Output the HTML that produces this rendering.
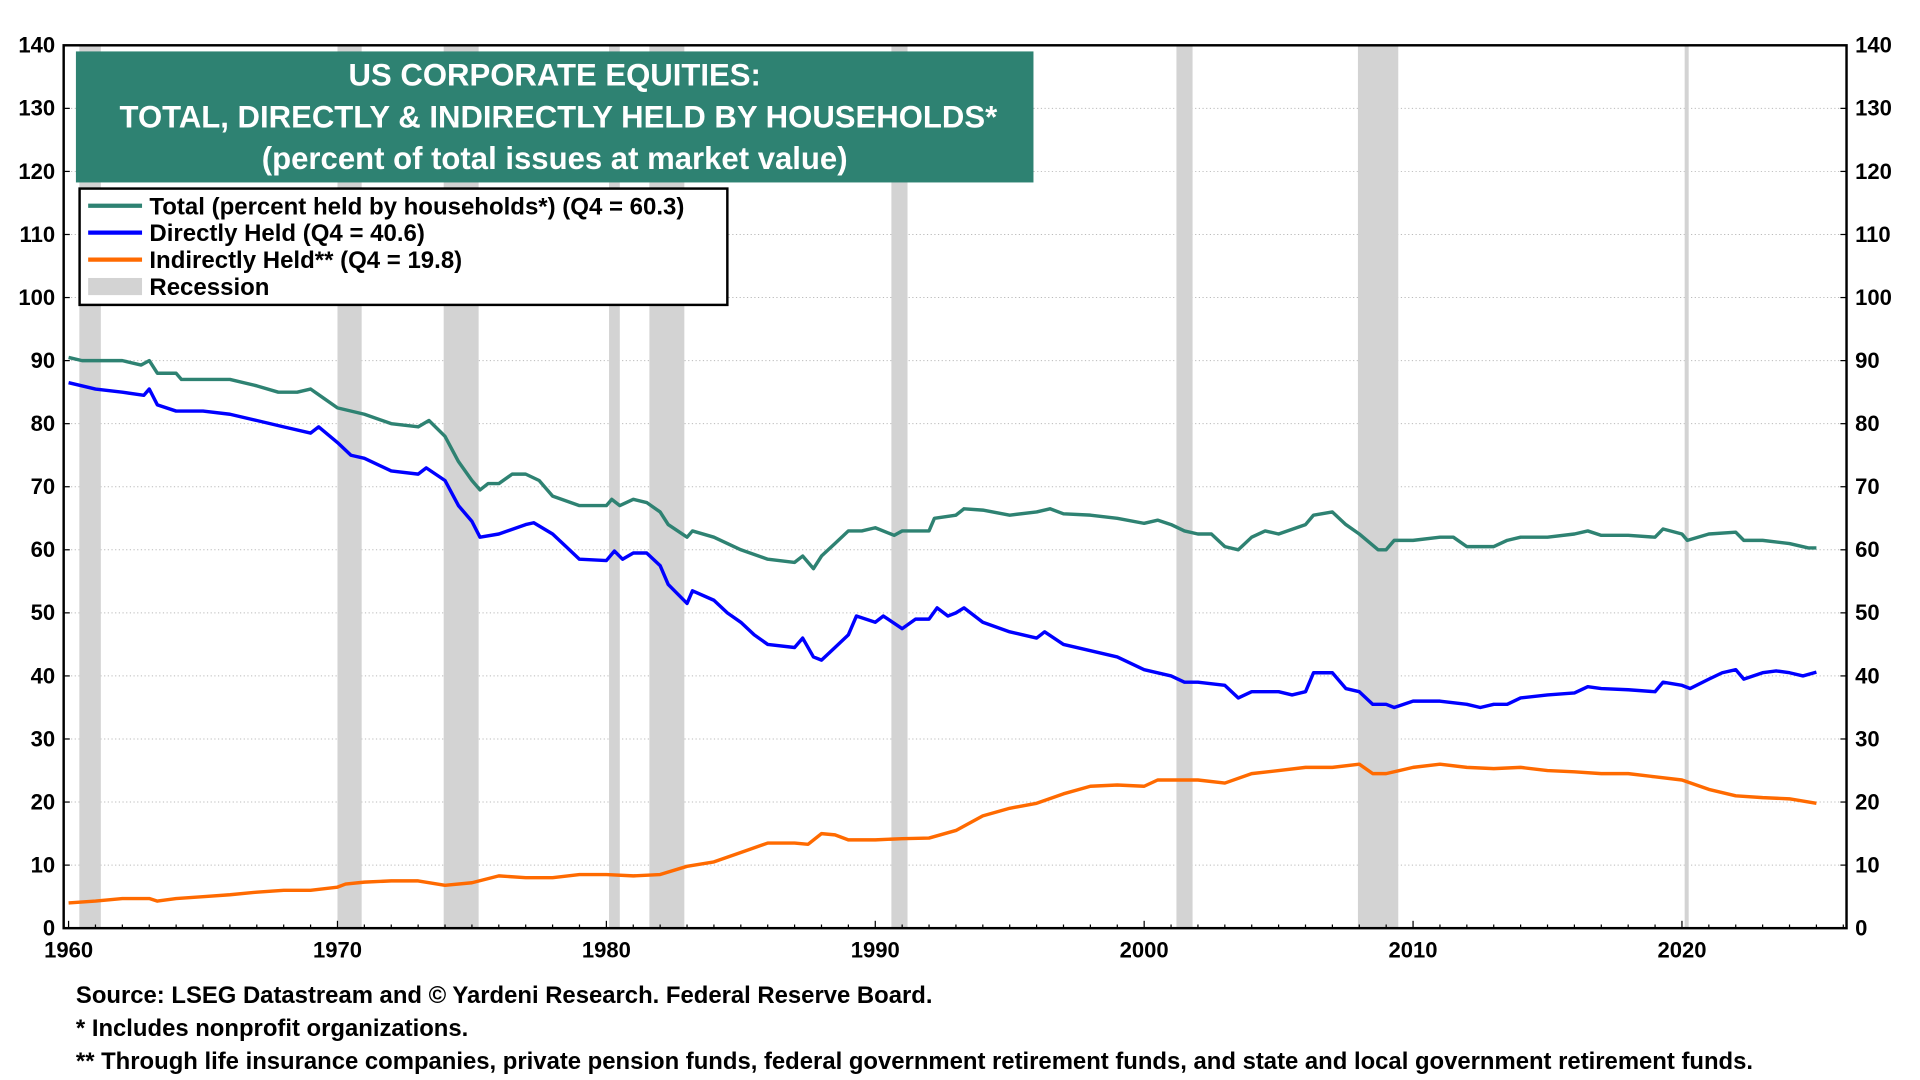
<!DOCTYPE html>
<html><head><meta charset="utf-8"><style>
html,body{margin:0;padding:0;background:#fff;}
svg{display:block;font-family:"Liberation Sans",Arial,sans-serif;font-weight:bold;}
</style></head><body>
<svg id="chart" width="1920" height="1080" viewBox="0 0 1568 882" xmlns="http://www.w3.org/2000/svg">
<g id="grid"></g>
<g id="rec"></g>
<g id="lines"></g>
<rect x="52" y="37" width="1456" height="721" fill="none" stroke="#000" stroke-width="2"/>
<g id="axes"></g>
<rect x="62" y="42" width="782" height="107" fill="#2e8272"/>
<text fill="#fff" font-size="25.4" text-anchor="middle"><tspan x="453" y="70">US CORPORATE EQUITIES:</tspan><tspan x="456" y="104">TOTAL, DIRECTLY &amp; INDIRECTLY HELD BY HOUSEHOLDS*</tspan><tspan x="453" y="138">(percent of total issues at market value)</tspan></text>
<g>
<rect x="65" y="154" width="529" height="95" fill="#fff" stroke="#000" stroke-width="2"/>
<line x1="72" y1="168" x2="116" y2="168" stroke="#2e8272" stroke-width="3.5"/>
<text x="122" y="175" font-size="19.6">Total (percent held by households*) (Q4 = 60.3)</text>
<line x1="72" y1="190" x2="116" y2="190" stroke="#0000ff" stroke-width="3.5"/>
<text x="122" y="197" font-size="19.6">Directly Held (Q4 = 40.6)</text>
<line x1="72" y1="212" x2="116" y2="212" stroke="#ff6a00" stroke-width="3.5"/>
<text x="122" y="219" font-size="19.6">Indirectly Held** (Q4 = 19.8)</text>
<rect x="72" y="227" width="44" height="14" fill="#d3d3d3"/>
<text x="122" y="241" font-size="19.6">Recession</text>
</g>
<g font-size="19.5">
<text x="62" y="819">Source: LSEG Datastream and © Yardeni Research. Federal Reserve Board.</text>
<text x="62" y="846">* Includes nonprofit organizations.</text>
<text x="62" y="873">** Through life insurance companies, private pension funds, federal government retirement funds, and state and local government retirement funds.</text>
</g>
</svg>
<script>
const yTicks=[0,10,20,30,40,50,60,70,80,90,100,110,120,130,140];
const xTicks=[1960,1970,1980,1990,2000,2010,2020];
const recStart=[1960.4,1970.0,1973.95,1980.1,1981.6,1990.6,2001.2,2007.95,2020.1];
const recEnd=[1961.2,1970.9,1975.25,1980.5,1982.9,1991.2,2001.8,2009.45,2020.25];
const totYears=[1960,1960.5,1961,1962,1962.7,1963,1963.3,1964,1964.2,1965,1966,1967,1967.8,1968.5,1969,1969.5,1970,1971,1972,1973,1973.4,1974,1974.5,1975,1975.3,1975.6,1976,1976.5,1977,1977.5,1978,1979,1980,1980.2,1980.5,1981,1981.5,1982,1982.3,1983,1983.2,1984,1985,1986,1987,1987.3,1987.7,1988,1988.5,1989,1989.5,1990,1990.7,1991,1992,1992.2,1993,1993.3,1994,1995,1996,1996.5,1997,1998,1999,2000,2000.5,2001,2001.5,2002,2002.5,2003,2003.5,2004,2004.5,2005,2006,2006.3,2007,2007.5,2008,2008.7,2009,2009.3,2010,2011,2011.5,2012,2013,2013.5,2014,2015,2016,2016.5,2017,2018,2019,2019.3,2020,2020.2,2021,2022,2022.3,2023,2024,2024.7,2025];
const totVals=[90.5,90,90,90,89.3,90,88,88,87,87,87,86,85,85,85.5,84,82.5,81.5,80,79.5,80.5,78,74,71,69.5,70.5,70.5,72,72,71,68.5,67,67,68,67,68,67.5,66,64,62,63,62,60,58.5,58,59,57,59,61,63,63,63.5,62.3,63,63,65,65.5,66.5,66.3,65.5,66,66.5,65.7,65.5,65,64.2,64.7,64,63,62.5,62.5,60.5,60,62,63,62.5,64,65.5,66,64,62.5,60,60,61.5,61.5,62,62,60.5,60.5,61.5,62,62,62.5,63,62.3,62.3,62,63.3,62.5,61.5,62.5,62.8,61.5,61.5,61,60.3,60.3];
const dirYears=[1960,1961,1962,1962.8,1963,1963.3,1964,1965,1966,1967,1968,1969,1969.3,1970,1970.5,1971,1972,1973,1973.3,1974,1974.5,1975,1975.3,1976,1977,1977.3,1978,1978.5,1979,1980,1980.3,1980.6,1981,1981.5,1982,1982.3,1983,1983.2,1984,1984.5,1985,1985.5,1986,1987,1987.3,1987.7,1988,1988.5,1989,1989.3,1990,1990.3,1991,1991.5,1992,1992.3,1992.7,1993,1993.3,1994,1995,1995.5,1996,1996.3,1997,1998,1999,2000,2001,2001.5,2002,2003,2003.5,2004,2005,2005.5,2006,2006.3,2007,2007.5,2008,2008.5,2009,2009.3,2010,2011,2012,2012.5,2013,2013.5,2014,2015,2016,2016.5,2017,2018,2019,2019.3,2020,2020.3,2021,2021.5,2022,2022.3,2023,2023.5,2024,2024.5,2025];
const dirVals=[86.5,85.5,85,84.5,85.5,83,82,82,81.5,80.5,79.5,78.5,79.5,77,75,74.5,72.5,72,73,71,67,64.5,62,62.5,64,64.3,62.5,60.5,58.5,58.3,59.8,58.5,59.5,59.5,57.5,54.5,51.5,53.5,52,50,48.5,46.5,45,44.5,46,43,42.5,44.5,46.5,49.5,48.5,49.5,47.5,49,49,50.8,49.5,50,50.8,48.5,47,46.5,46,47,45,44,43,41,40,39,39,38.5,36.5,37.5,37.5,37,37.5,40.5,40.5,38,37.5,35.5,35.5,35,36,36,35.5,35,35.5,35.5,36.5,37,37.3,38.3,38,37.8,37.5,39,38.5,38,39.5,40.5,41,39.5,40.5,40.8,40.5,40,40.6];
const indYears=[1960,1961,1962,1963,1963.3,1964,1965,1966,1967,1968,1969,1970,1970.3,1971,1972,1973,1974,1975,1976,1977,1978,1979,1980,1981,1982,1983,1984,1985,1986,1987,1987.5,1988,1988.5,1989,1990,1991,1992,1993,1994,1995,1996,1997,1998,1999,2000,2000.5,2001,2002,2003,2004,2005,2006,2007,2008,2008.5,2009,2010,2011,2012,2013,2014,2015,2016,2017,2018,2019,2020,2021,2022,2023,2024,2025];
const indVals=[4,4.3,4.7,4.7,4.3,4.7,5,5.3,5.7,6,6,6.5,7,7.3,7.5,7.5,6.8,7.2,8.3,8,8,8.5,8.5,8.3,8.5,9.8,10.5,12,13.5,13.5,13.3,15,14.8,14,14,14.2,14.3,15.5,17.8,19,19.8,21.3,22.5,22.7,22.5,23.5,23.5,23.5,23,24.5,25,25.5,25.5,26,24.5,24.5,25.5,26,25.5,25.3,25.5,25,24.8,24.5,24.5,24,23.5,22,21,20.7,20.5,19.8];
const NS="http://www.w3.org/2000/svg";
const X0=52,X1=1508,Y0=758,Y1=37;
function xs(yr){return 56+(yr-1960)*21.96;}
function ys(v){return Y0-v*(Y0-Y1)/140;}
function mk(tag,attrs,parent){const e=document.createElementNS(NS,tag);for(const k in attrs)e.setAttribute(k,attrs[k]);parent.appendChild(e);return e;}
const grid=document.getElementById('grid'),rec=document.getElementById('rec'),lines=document.getElementById('lines'),axes=document.getElementById('axes');
yTicks.forEach(t=>{
  if(t>0&&t<140){const l=mk('line',{x1:X0,x2:X1,y1:ys(t),y2:ys(t),stroke:'#bbb','stroke-width':0.8,'stroke-dasharray':'1,2'},grid);
  
  }
  const a=mk('text',{x:X0-7,y:ys(t)+6,'text-anchor':'end','font-size':18},axes);a.textContent=t;
  
  
  const b=mk('text',{x:X1+7,y:ys(t)+6,'text-anchor':'start','font-size':18},axes);b.textContent=t;
  
  
  mk('line',{x1:X0,x2:X0+5,y1:ys(t),y2:ys(t),stroke:'#000'},axes);
  mk('line',{x1:X1-5,x2:X1,y1:ys(t),y2:ys(t),stroke:'#000'},axes);
});
xTicks.forEach(t=>{
  const a=mk('text',{x:xs(t),y:Y0+24,'text-anchor':'middle','font-size':18},axes);a.textContent=t;
  
  
  mk('line',{x1:xs(t),x2:xs(t),y1:Y0,y2:Y0-6,stroke:'#000'},axes);
});
for(let yr=1961;yr<=2026;yr++){if(yr%10)mk('line',{x1:xs(yr),x2:xs(yr),y1:Y0,y2:Y0-3,stroke:'#000'},axes);}
recStart.forEach((s,i)=>{
  const r=mk('rect',{x:xs(s),y:Y1,width:xs(recEnd[i])-xs(s),height:Y0-Y1,fill:'#d3d3d3'},rec);
  
  
});
function series(yrs,vals,color,name){
  const d=yrs.map((y,i)=>(i?'L':'M')+xs(y).toFixed(1)+','+ys(vals[i]).toFixed(1)).join('');
  const p=mk('path',{d:d,fill:'none',stroke:color,'stroke-width':2.8,'stroke-linejoin':'round'},lines);
  
  
}
series(totYears,totVals,'#2e8272','total-line');
series(dirYears,dirVals,'#0000ff','directly-held-line');
series(indYears,indVals,'#ff6a00','indirectly-held-line');
</script>
</body></html>
